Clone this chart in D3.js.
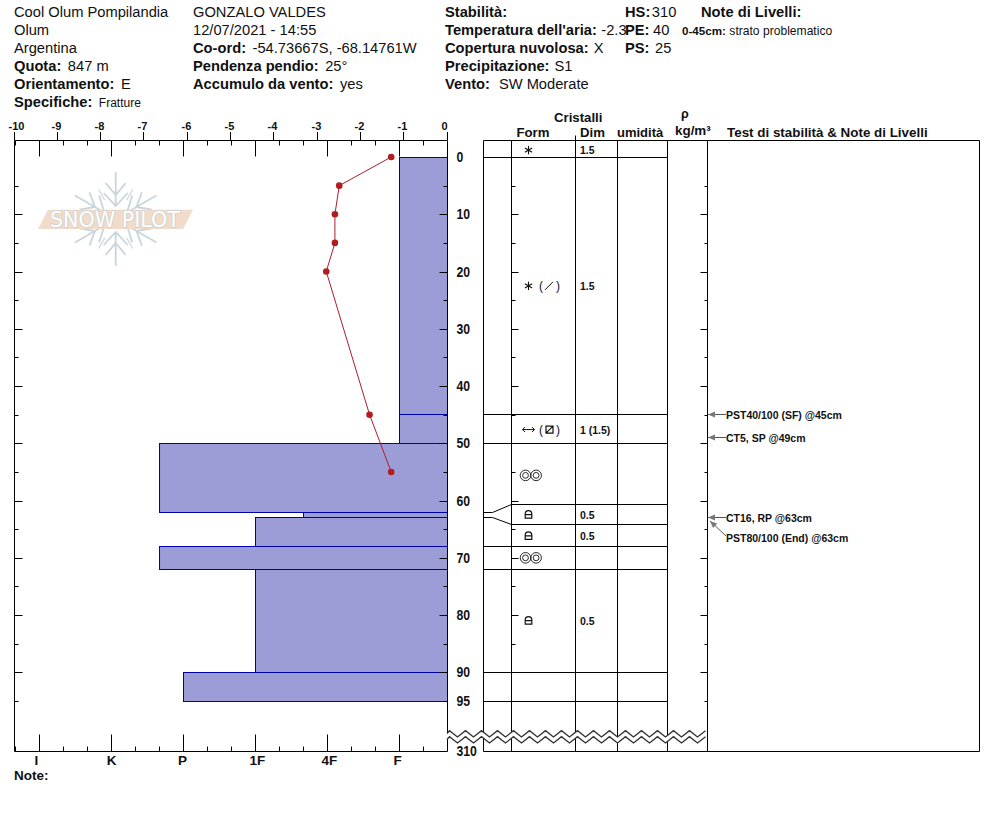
<!DOCTYPE html>
<html><head><meta charset="utf-8">
<script src="https://cdn.jsdelivr.net/npm/d3@7/dist/d3.min.js"></script>
<style>
html,body{margin:0;padding:0;background:#fff}
svg{display:block}
text{font-family:"Liberation Sans",Arial,sans-serif;fill:#111}
.b{font-weight:700}
</style></head><body>
<svg id="c" width="994" height="840"></svg>
<script>
// ---------- data ----------
const tempTicks = [-10,-9,-8,-7,-6,-5,-4,-3,-2,-1,0];
const hardnessLabels = ["I","K","P","1F","4F","F"];
const hardnessMinor = [-0.333,0.333,0.667,1.333,1.667,2.333,2.667,3.333,3.667,4.333,4.667,5.333];
const depthLabels = [0,10,20,30,40,50,60,70,80,90,95];
const depthTicksMajor = [10,20,30,40,50,60,70,80,90];
const depthTicksMinor = [5,15,25,35,45,55,65,75,85,95];
const layerTop =    [0, 45, 50, 62, 63, 68, 72, 90];
const layerBottom = [45,50, 62, 63, 68, 72, 90, 95];
const layerHard =   [5, 5, 1.667, 3.667, 3, 1.667, 3, 2];
const tempDepth = [0,5,10,15,20,45,55];
const tempValue = [-1.3,-2.5,-2.6,-2.6,-2.8,-1.8,-1.3];
const rowLines = [0,45,50,60.7,64.2,68,72,90,95];
const rowDepth = [-1.2,22.5,47.6,55.6,62.5,66.2,70,81];
const rowForm = ["star","starSlash","facet","round","lock","lock","round","lock"];
const rowSize = ["1.5","1.5","1 (1.5)","","0.5","0.5","","0.5"];
const testDepth = [45,49,63];
const testLabels = ["PST40/100 (SF) @45cm","CT5, SP @49cm","CT16, RP @63cm"];
const test2Label = "PST80/100 (End) @63cm";
const columnEdges = [483,511,575,617,667,707,979];
const headerCol1 = [["","Cool Olum Pompilandia"],["","Olum"],["","Argentina"],["Quota:","847 m"],["Orientamento:","E"]];
const headerCol2 = [["","GONZALO VALDES"],["","12/07/2021 - 14:55"],["Co-ord:","-54.73667S, -68.14761W"],["Pendenza pendio:","25°"],["Accumulo da vento:","yes"]];
const headerCol3 = [["Stabilità:",""],["Temperatura dell'aria:","-2.3"],["Copertura nuvolosa:","X"],["Precipitazione:","S1"],["Vento:","SW Moderate"]];
const headerCol4 = [["HS:","310"],["PE:","40"],["PS:","25"]];

// ---------- scales ----------
const x = d3.scaleLinear().domain([-10,0]).range([14.5,447.5]);
const xTick = d3.scaleLinear().domain([-10,0]).range([14,447]).interpolate((a,b)=>t=>Math.floor(a*(1-t)+b*t+1e-6));
const h = d3.scaleLinear().domain([0,5]).range([39.5,399.5]);
const y = d3.scaleLinear().domain([0,95]).range([157,701]);
const yTick = y.copy().interpolate(d3.interpolateRound);
const yf = d => Math.floor(y(d)) + 0.5;
const svg = d3.select("#c");
const topY = 140.5, bottomY = 751.5, L = 14.5, R = 447.5;

// ---------- header ----------
const FS = 14.7;
const rowY = i => 17 + i*18;
function header(rows, X, gap){
  rows.forEach((r,i)=>{
    const t = svg.append("text").attr("x",X).attr("y",rowY(i)).attr("font-size",FS);
    if(r[0]) t.append("tspan").attr("class","b").text(r[0]);
    if(r[1]) t.append("tspan").attr("dx",r[0]?gap(r[0]):0).text(r[1]);
  });
}
header(headerCol1,14,k=>k=="Quota:"?6.5:6.5);
header(headerCol2,193,()=>6.5);
header(headerCol3,445,k=>k=="Vento:"?9:(k.startsWith("Temp")?4.5:5));
header(headerCol4,625,k=>k=="PS:"?5.5:(k=="HS:"?1.5:3.5));
const sp = svg.append("text").attr("x",14).attr("y",107).attr("font-size",FS);
sp.append("tspan").attr("class","b").text("Specifiche:");
sp.append("tspan").attr("font-size",12).attr("dx",6.5).text("Fratture");
svg.append("text").attr("class","b").attr("x",701).attr("y",17).attr("font-size",FS).text("Note di Livelli:");
const nl = svg.append("text").attr("x",682).attr("y",35).attr("font-size",12);
nl.append("tspan").attr("class","b").attr("font-size",11.6).text("0-45cm:");
nl.append("tspan").attr("dx",3.5).attr("font-size",12.1).text("strato problematico");

// ---------- watermark ----------
const wm = svg.append("g");
const flake = wm.append("g").attr("transform","translate(115.7,219)").attr("stroke","#c9d5dd").attr("stroke-width",1.8).attr("fill","none");
[0,60,120,180,240,300].forEach(a=>{
  const g = flake.append("g").attr("transform",`rotate(${a})`);
  g.append("path").attr("d","M0,-14V-47M-12,-26L0,-13L12,-26M-10,-36L0,-24L10,-36");
  g.append("path").attr("transform","rotate(30)").attr("d","M0,-22V-34").attr("stroke-width",1.2);
});
wm.append("path").attr("d","M38,229L48,209.7H193L183,229Z").attr("fill","#f0dcc9");
wm.append("text").attr("x",50).attr("y",227).attr("textLength",130).attr("lengthAdjust","spacingAndGlyphs")
  .attr("font-size",21).style("fill","#fff").attr("stroke","#cdd1d3").attr("stroke-width",1.6).attr("paint-order","stroke")
  .style("font-family","'DejaVu Sans'").text("SNOW PILOT");

// ---------- bars ----------
svg.append("g").selectAll("rect").data(layerTop).join("rect")
  .attr("x",(d,i)=>h(layerHard[i])).attr("width",(d,i)=>R-h(layerHard[i]))
  .attr("y",d=>yf(d)).attr("height",(d,i)=>yf(layerBottom[i])-yf(d))
  .attr("fill","#9c9cd6").attr("stroke","#0000a8").attr("stroke-width",1);

// ---------- left panel frame + axes ----------
const frame = svg.append("g").attr("stroke","#000").attr("stroke-width",1).attr("fill","none");
frame.append("path").attr("d",`M${L},${bottomY}V${topY}H${R}V${bottomY}H${L}`);

function styleAxis(g){ g.select(".domain").remove(); g.selectAll("line").attr("stroke","#000"); }
const tempShift = d => d==-10?2:(d==0?-3:-1);
const tAxis = d3.axisTop(xTick).tickValues(tempTicks).tickSize(8).offset(0.5).tickFormat(d=>String(d));
svg.append("g").attr("transform",`translate(0,${topY-0.5})`).call(tAxis).call(styleAxis)
  .call(g=>g.selectAll("text").attr("class","b").attr("font-size",11).attr("x",tempShift).attr("y",-10.5).attr("dy",0).style("fill","#111"));

const hMaj = d3.range(0,6);
svg.append("g").attr("transform",`translate(0,${topY})`).call(d3.axisBottom(h).tickValues(hMaj).tickSize(16).offset(0).tickFormat("")).call(styleAxis);
svg.append("g").attr("transform",`translate(0,${topY})`).call(d3.axisBottom(h).tickValues(hardnessMinor).tickSize(5).offset(0).tickFormat("")).call(styleAxis);
svg.append("g").attr("transform",`translate(0,${bottomY})`).call(d3.axisTop(h).tickValues(hMaj).tickSize(17).offset(0).tickFormat("")).call(styleAxis);
svg.append("g").attr("transform",`translate(0,${bottomY})`).call(d3.axisTop(h).tickValues(hardnessMinor).tickSize(5).offset(0).tickFormat("")).call(styleAxis);
const hLabelShift = [-3,0,-1,2,2,-2];
svg.append("g").selectAll("text").data(hardnessLabels).join("text").attr("class","b").attr("font-size",13.5)
  .attr("text-anchor","middle").attr("x",(d,i)=>h(i)+hLabelShift[i]).attr("y",764.5).text(d=>d);
svg.append("text").attr("class","b").attr("x",14).attr("y",779.5).attr("font-size",13.5).text("Note:");

function depthTicks(X, fn, majorLen, minorLen){
  svg.append("g").attr("transform",`translate(${X},0)`).call(fn(yTick).tickValues(depthTicksMajor).tickSize(majorLen).offset(0.5).tickFormat("")).call(styleAxis);
  svg.append("g").attr("transform",`translate(${X},0)`).call(fn(yTick).tickValues(depthTicksMinor).tickSize(minorLen).offset(0.5).tickFormat("")).call(styleAxis);
}
depthTicks(L, d3.axisRight, 8, 4);
depthTicks(R, d3.axisLeft, 8, 4);

// depth labels
const dl = (d)=>String(d).length*6.8;
svg.append("g").selectAll("text").data(depthLabels).join("text").attr("class","b").attr("font-size",14)
  .attr("textLength",dl).attr("lengthAdjust","spacingAndGlyphs")
  .attr("x",456.5).attr("y",d=>y(d)+5).text(d=>d);
svg.append("text").attr("class","b").attr("font-size",14).attr("textLength",dl(310)).attr("lengthAdjust","spacingAndGlyphs")
  .attr("x",456.5).attr("y",756).text("310");

// ---------- temperature ----------
const line = d3.line().x(d=>x(d[1])).y(d=>y(d[0]));
const tp = tempDepth.map((d,i)=>[d,tempValue[i]]);
svg.append("path").attr("d",line(tp)).attr("fill","none").attr("stroke","#b01c2a").attr("stroke-width",1);
svg.append("g").selectAll("circle").data(tp).join("circle").attr("cx",d=>x(d[1])).attr("cy",d=>y(d[0])).attr("r",3.3).attr("fill","#b01c22");

// ---------- right table ----------
const tbl = svg.append("g").attr("stroke","#000").attr("fill","none");
const cx = columnEdges.map(d=>d+0.5);
tbl.append("path").attr("d",`M${cx[0]},${bottomY}V${topY}H${cx[6]}V${bottomY}H${cx[0]}`);
cx.slice(1,6).forEach(v=>tbl.append("line").attr("x1",v).attr("x2",v).attr("y1",topY).attr("y2",bottomY));
tbl.append("line").attr("x1",cx[2]).attr("x2",cx[2]).attr("y1",topY-5).attr("y2",topY);
// row lines
svg.append("g").selectAll("line").data(rowLines).join("line")
  .attr("x1",(d,i)=>(i==3||i==4)?cx[1]:cx[0]).attr("x2",cx[4])
  .attr("y1",d=>yf(d)).attr("y2",d=>yf(d)).attr("stroke","#000");
depthTicks(cx[1], d3.axisRight, 7, 4);
depthTicks(cx[5], d3.axisLeft, 7, 3);
// connectors
[[62,60.7],[63,64.2]].forEach(p=>{
  svg.append("path").attr("fill","none").attr("stroke","#000")
   .attr("d",`M${cx[0]},${yf(p[0])}H${cx[0]+9}L${cx[1]},${yf(p[1])}`);
});

// glyphs
const gl = svg.append("g");
function asterisk(X,Y){
  const g = gl.append("g").attr("transform",`translate(${X},${Y})`).attr("stroke","#111").attr("stroke-width",1.1);
  [0,60,120].forEach(a=>g.append("line").attr("y1",-4.2).attr("y2",4.2).attr("transform",`rotate(${a})`));
}
function paren(X,Y,s){ gl.append("text").attr("x",X).attr("y",Y+4).attr("font-size",12).attr("text-anchor","middle").text(s); }
function roundG(X,Y){
  const g = gl.append("g").attr("transform",`translate(${X},${Y})`).attr("fill","none").attr("stroke","#111").attr("stroke-width",0.9);
  [-5.3,5.3].forEach(o=>{ g.append("circle").attr("cx",o).attr("r",5.3); g.append("circle").attr("cx",o).attr("r",2.9); });
}
function lock(X,Y){
  gl.append("path").attr("transform",`translate(${X},${Y})`).attr("fill","none").attr("stroke","#111").attr("stroke-width",1.2)
   .attr("d","M-3.3,3.3V-1A3.3,3.3 0 0 1 3.3,-1V3.3ZM-3.3,-0.2H3.3");
}
rowForm.forEach((f,i)=>{
  const Y = y(rowDepth[i]), X = 528.5;
  if(f=="star") asterisk(X,Y);
  if(f=="starSlash"){ asterisk(X,Y); paren(541,Y,"("); gl.append("line").attr("x1",545).attr("x2",553).attr("y1",Y+4).attr("y2",Y-4).attr("stroke","#111"); paren(558,Y,")"); }
  if(f=="facet"){
    gl.append("path").attr("transform",`translate(${X},${Y})`).attr("fill","none").attr("stroke","#111")
      .attr("d","M-6,0H6M-3.5,-2.5L-6,0L-3.5,2.5M3.5,-2.5L6,0L3.5,2.5");
    paren(541,Y,"(");
    gl.append("path").attr("transform",`translate(549.5,${Y})`).attr("fill","none").attr("stroke","#111").attr("stroke-width",1.2)
      .attr("d","M-3.5,-3.5H3.5V3.5H-3.5ZM-3.5,3.5L3.5,-3.5");
    paren(558,Y,")");
  }
  if(f=="round") roundG(530.8,Y);
  if(f=="lock") lock(X,Y);
});
svg.append("g").selectAll("text").data(rowSize).join("text").attr("class","b").attr("font-size",10.5)
  .attr("x",580).attr("y",(d,i)=>y(rowDepth[i])+4).text(d=>d);

// headers of table
const hdLabels = ["Cristalli","Form","Dim","umidità","ρ","kg/m³","Test di stabilità & Note di Livelli"];
const hdPos = [[554,122,13.2],[516.5,137,13.2],[580,137,13.2],[617,137,13],[681,118,12.5],[675,135,13.4],[727,137,13.4]];
svg.append("g").selectAll("text").data(hdLabels).join("text").attr("class","b")
  .attr("font-size",(d,i)=>hdPos[i][2]).attr("x",(d,i)=>hdPos[i][0]).attr("y",(d,i)=>hdPos[i][1]).text(d=>d);

// test arrows
const ar = svg.append("g");
function arrow(x1,y1,x2,y2){
  const a = Math.atan2(y1-y2,x1-x2), c=Math.cos(a), s=Math.sin(a);
  ar.append("path").attr("fill","none").attr("stroke","#555").attr("d",`M${x1},${y1}L${x2},${y2}`);
  ar.append("path").attr("fill","#777").attr("d",`M${x2},${y2}L${x2+c*7-s*3},${y2+s*7+c*3}L${x2+c*7+s*3},${y2+s*7-c*3}Z`);
}
testDepth.forEach((d,i)=>{
  arrow(726,yf(d),708,yf(d));
  svg.append("text").attr("class","b").attr("font-size",10.5).attr("x",726).attr("y",y(d)+4).text(testLabels[i]);
});
arrow(726,536,710,521);
svg.append("text").attr("class","b").attr("font-size",10.5).attr("x",726).attr("y",y(63)+24).text(test2Label);

// ---------- break zigzag ----------
const zigX = d3.range(0,33).map(i=>449.5+i*8);
const zig = (o)=>[[447,733.5+o]].concat(zigX.map((v,i)=>[v,(i%2? 737:730.7)+o]));
const zl = d3.line();
svg.append("path").attr("d",zl(zig(0).concat(zig(6).reverse()))+"Z").attr("fill","#fff").attr("stroke","none");
svg.append("path").attr("d",zl(zig(0))).attr("fill","none").attr("stroke","#333").attr("stroke-width",1.3);
svg.append("path").attr("d",zl(zig(6))).attr("fill","none").attr("stroke","#333").attr("stroke-width",1.3);
</script></body></html>
